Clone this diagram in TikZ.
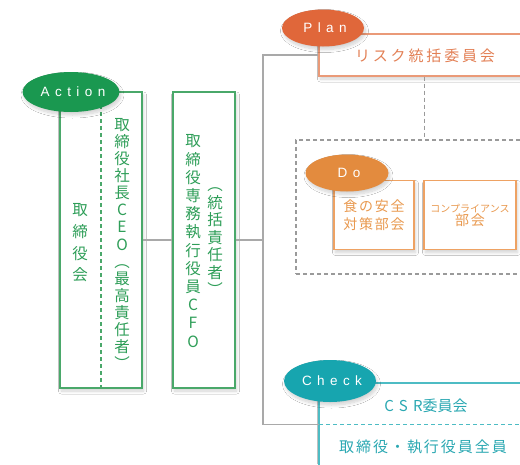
\documentclass[tikz,border=0pt]{standalone}
\usepackage{fontspec}
\setmainfont{Noto Sans CJK JP}
\newfontfamily\cjk{Noto Sans CJK JP}
\newfontfamily\lsp[LetterSpace=40]{Liberation Sans}
\newfontfamily\cjkA[LetterSpace=19]{Noto Sans CJK JP}
\newfontfamily\cjkB[LetterSpace=13]{Noto Sans CJK JP}
\newfontfamily\cjkC[LetterSpace=35]{Noto Sans CJK JP}
\usetikzlibrary{shadows.blur,shapes.geometric}
\definecolor{actfill}{HTML}{1A9850}
\definecolor{acttext}{HTML}{2E9E58}
\definecolor{actline}{HTML}{4AA86A}
\definecolor{planfill}{HTML}{E0673A}
\definecolor{plantext}{HTML}{E38055}
\definecolor{planline}{HTML}{EA9A78}
\definecolor{dofill}{HTML}{E38B3E}
\definecolor{dotext}{HTML}{E9994F}
\definecolor{doline}{HTML}{EEA263}
\definecolor{chkfill}{HTML}{17A5AF}
\definecolor{chktext}{HTML}{2AA8B2}
\definecolor{chkline}{HTML}{4DBCC4}
\definecolor{grayline}{HTML}{A9A9A9}
\definecolor{graydash}{HTML}{9A9A9A}
\tikzset{
  shad/.style={blur shadow={shadow xshift=1.5pt, shadow yshift=-3pt, shadow blur radius=3pt, shadow blur steps=12, shadow opacity=18}},
  box/.style={draw, fill=white, line width=1.1pt, inner sep=0pt, shad},
  tag/.style={ellipse, fill=#1, text=white, inner sep=0pt, shad, font=\lsp\fontsize{13.5}{14}\selectfont},
  vtext/.style={inner sep=0pt, align=center, text=acttext},
  conn/.style={draw=grayline, line width=1.1pt},
  dconn/.style={draw=graydash, line width=1.1pt, dash pattern=on 4pt off 3pt},
}
\begin{document}
\begin{tikzpicture}[x=1pt,y=-1pt]
\clip (0,0) rectangle (520,464);
\fill[white] (0,0) rectangle (520,464);

% Plan group
\node[box, draw=planline, minimum width=211pt, minimum height=42pt] (plan) at (424.5,55) {};
\node[text=plantext, font=\cjkA\fontsize{15}{18}\selectfont] (plantxt) at (425,56) {リスク統括委員会};

% Do group
\node[draw=graydash, line width=1.1pt, dash pattern=on 4pt off 3pt, minimum width=234pt, minimum height=134pt, inner sep=0pt] (dobox) at (413,207) {};
\node[box, draw=doline, minimum width=80pt, minimum height=69pt, align=center, text=dotext,
      font=\cjkB\fontsize{14}{18}\selectfont] (food) at (374,215) {食の安全\\対策部会};
\node[box, draw=doline, minimum width=92pt, minimum height=69pt, align=center, text=dotext] (comp) at (470,215)
  {{\cjk\fontsize{10}{18}\selectfont コンプライアンス}\\{\cjkB\fontsize{14}{18}\selectfont 部会}};

% Check group
\node[box, draw=chkline, minimum width=211pt, minimum height=92pt] (check) at (424.5,429) {};
\coordinate (chkL) at (319,424.5);
\coordinate (chkR) at (530,424.5);
\draw[draw=chkline, line width=1.1pt, dash pattern=on 4pt off 3pt] (chkL) -- (chkR);
\node[text=chktext, font=\cjk\fontsize{15}{18}\selectfont] (csr) at (426,406) {{\cjkC CSR}委員会};
\node[text=chktext, font=\cjkB\fontsize{15}{18}\selectfont] (all) at (423,447) {取締役・執行役員全員};

% Action group
\node[box, draw=actline, minimum width=82pt, minimum height=296pt] (act1) at (101,240) {};
\node[box, draw=actline, minimum width=62pt, minimum height=296pt] (act2) at (204,240) {};
\draw[draw=actline, line width=1.1pt, dash pattern=on 4pt off 3pt] (act1.north) -- (act1.south);
\node[vtext, font=\cjk\fontsize{15.5}{21.7}\selectfont] (t1) at (80,243) {取\\締\\役\\会};
\node[vtext, font=\cjk\fontsize{15.5}{17.1}\selectfont] (t2) at (122,244) {取\\締\\役\\社\\長\\C\\E\\O\\︵\\最\\高\\責\\任\\者\\︶};
\node[vtext, font=\cjk\fontsize{15.5}{18.2}\selectfont] (t3) at (193,241) {取\\締\\役\\専\\務\\執\\行\\役\\員\\C\\F\\O};
\node[vtext, font=\cjk\fontsize{15.5}{17.5}\selectfont] (t4) at (215,242) {︵\\統\\括\\責\\任\\者\\︶};

% connectors
\coordinate (spine) at (263,240);
\draw[conn] (act1.east) -- (act2.west);
\draw[conn] (act2.east) -- (spine);
\draw[conn] (plan.west) -| (spine) |- (chkL);
\draw[dconn] (plan.south) -- (plan.south |- dobox.north);

% tags
\node[tag=actfill, minimum width=92pt, minimum height=40pt] (action) at (71,92) {\hspace{4pt}Action};
\node[tag=planfill, minimum width=82pt, minimum height=37pt] (plantag) at (323,28) {\hspace{4pt}Plan};
\node[tag=dofill, minimum width=83pt, minimum height=37pt] (dotag) at (347,173) {\hspace{4pt}Do};
\node[tag=chkfill, minimum width=92pt, minimum height=42pt] (chktag) at (330,381) {\hspace{4pt}Check};
\end{tikzpicture}
\end{document}
